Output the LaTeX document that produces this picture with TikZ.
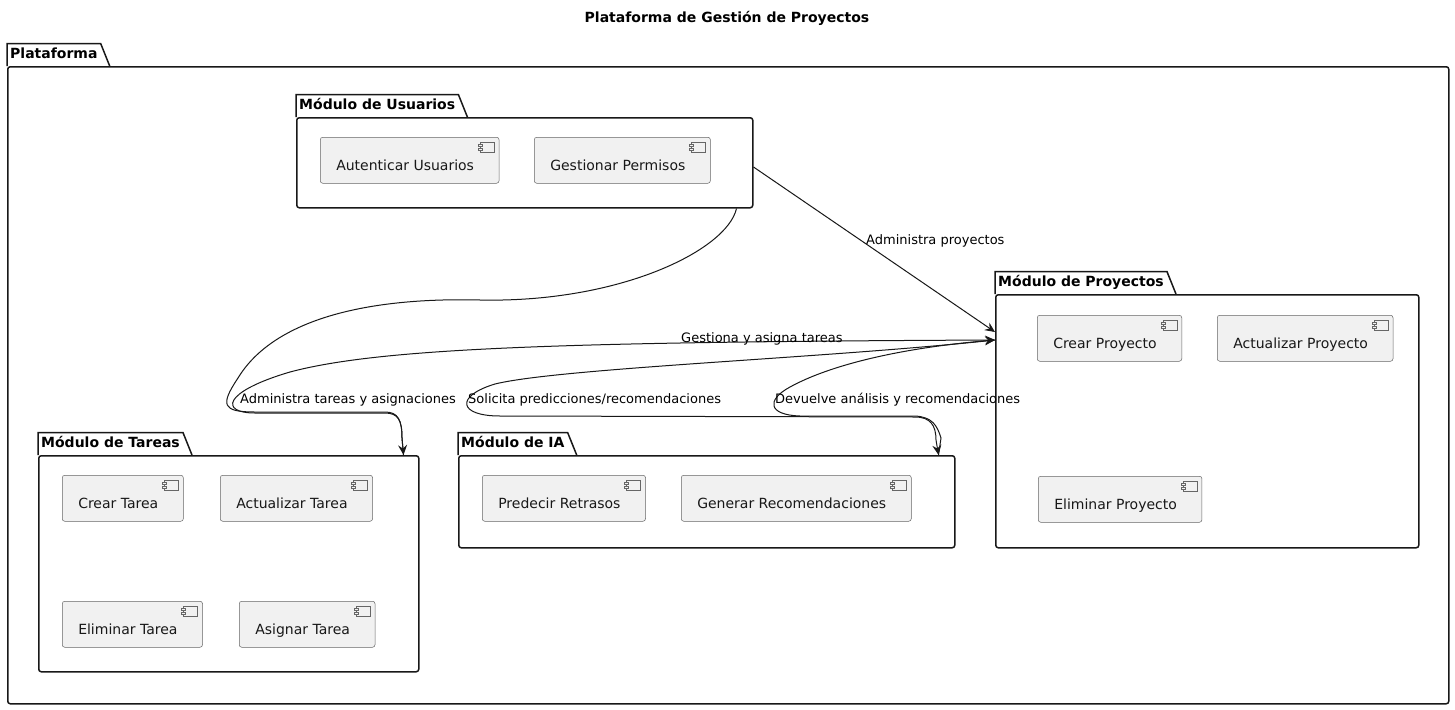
\documentclass[tikz,border=0pt]{standalone}
\usepackage{fontspec}
\setmainfont{DejaVu Sans}
\usetikzlibrary{arrows.meta,positioning}
\definecolor{compfill}{HTML}{F1F1F1}
\definecolor{umlline}{HTML}{181818}

\begin{document}
\begin{tikzpicture}[x=1pt, y=-1pt,
  font=\fontsize{14}{16}\selectfont,
  pkg/.style={draw=umlline, line width=1.5pt, rounded corners=2.5pt, anchor=north west,
              inner sep=0pt},
  tab/.style={anchor=south west, font=\fontsize{14}{16}\selectfont\bfseries, inner xsep=3pt,
              inner ysep=0pt, minimum height=22pt, text height=11pt, text depth=3pt},
  tabline/.style={draw=umlline, line width=1.5pt},
  comp/.style={draw=black!60, line width=0.5pt, fill=compfill, rounded corners=2.5pt,
               anchor=north west, inner xsep=0pt, minimum height=46pt, text height=22pt,
               text depth=2pt, text=umlline,
               execute at begin node={\hspace*{16pt}}, execute at end node={\hspace*{25pt}},
               path picture={
                 \draw[sharp corners, line width=0.5pt] ([xshift=-19pt,yshift=-5pt]path picture bounding box.north east) rectangle ++(14pt,-10pt);
                 \draw[sharp corners, line width=0.5pt, fill=compfill] ([xshift=-21pt,yshift=-7pt]path picture bounding box.north east) rectangle ++(4pt,-2pt);
                 \draw[sharp corners, line width=0.5pt, fill=compfill] ([xshift=-21pt,yshift=-11pt]path picture bounding box.north east) rectangle ++(4pt,-2pt);}},
  lbl/.style={anchor=west, inner sep=0pt, font=\fontsize{13}{15}\selectfont, text=black},
  arr/.style={-{Stealth[length=10pt, width=9pt, inset=3.5pt]}, draw=umlline, line width=1pt}]

\path[use as bounding box, fill=white] (0,0) rectangle (1455,709);

% Title
\node[font=\fontsize{14}{16}\selectfont\bfseries] (title) at (727,18) {Plataforma de Gestión de Proyectos};

% Outer package
\node[pkg, minimum width=1441pt, minimum height=637pt] (plat) at (7,66) {};
\node[tab] (platT) at (plat.north west) {Plataforma};
\draw[tabline] (platT.south west) -- (platT.north west) -- (platT.north east) -- ([xshift=9pt]platT.south east);

% Usuarios
\node[pkg, minimum width=456pt, minimum height=90pt] (usr) at (296,117) {};
\node[tab] (usrT) at (usr.north west) {Módulo de Usuarios};
\draw[tabline] (usrT.south west) -- (usrT.north west) -- (usrT.north east) -- ([xshift=9pt]usrT.south east);
\node[comp] (cAU) at (320,137) {Autenticar Usuarios};
\node[comp] (cGP) at (534,137) {Gestionar Permisos};

% Proyectos
\node[pkg, minimum width=423pt, minimum height=253pt] (pro) at (995,294) {};
\node[tab] (proT) at (pro.north west) {Módulo de Proyectos};
\draw[tabline] (proT.south west) -- (proT.north west) -- (proT.north east) -- ([xshift=9pt]proT.south east);
\node[comp] (cCP) at (1037,315) {Crear Proyecto};
\node[comp] (cUP) at (1217,315) {Actualizar Proyecto};
\node[comp] (cEP) at (1038,476) {Eliminar Proyecto};

% Tareas
\node[pkg, minimum width=380pt, minimum height=216pt] (tar) at (38,455) {};
\node[tab] (tarT) at (tar.north west) {Módulo de Tareas};
\draw[tabline] (tarT.south west) -- (tarT.north west) -- (tarT.north east) -- ([xshift=9pt]tarT.south east);
\node[comp] (cCT) at (62,475) {Crear Tarea};
\node[comp] (cUT) at (220,475) {Actualizar Tarea};
\node[comp] (cET) at (62,601) {Eliminar Tarea};
\node[comp] (cAT) at (239,601) {Asignar Tarea};

% IA
\node[pkg, minimum width=496pt, minimum height=92pt] (ia) at (458,455) {};
\node[tab] (iaT) at (ia.north west) {Módulo de IA};
\draw[tabline] (iaT.south west) -- (iaT.north west) -- (iaT.north east) -- ([xshift=9pt]iaT.south east);
\node[comp] (cPR) at (482,475) {Predecir Retrasos};
\node[comp] (cGR) at (681,475) {Generar Recomendaciones};

% Connectors
\draw[arr] ([yshift=-50pt]usr.north east) -- ([yshift=-38pt]pro.north west);
\draw[arr] ([xshift=-17pt]usr.south east)
  .. controls (727,250) and (620,303) .. (480,300)
  .. controls (360,297) and (272,322) .. (238,378)
  .. controls (220,405) and (222,412) .. (255,412)
  -- (385,412) .. controls (398,412) and (402,420) .. (402,438)
  -- ([xshift=-16pt]tar.north east);
\draw[arr] ([xshift=-16pt]tar.north east) -- (402,438)
  .. controls (402,420) and (398,413) .. (385,413) -- (255,413)
  .. controls (220,413) and (222,392) .. (290,372)
  .. controls (380,348) and (560,342) .. ([yshift=-46pt]pro.north west);
\draw[arr] ([yshift=-46pt]pro.north west)
  .. controls (830,358) and (560,368) .. (495,384)
  .. controls (455,396) and (458,416) .. (500,416)
  -- (915,417) .. controls (930,417) and (936,425) .. (936,440)
  -- ([xshift=-17pt]ia.north east);
\draw[arr] ([xshift=-17pt]ia.north east) -- (941,438)
  .. controls (937,425) and (932,417) .. (915,416) -- (800,416)
  .. controls (768,415) and (766,400) .. (790,387)
  .. controls (830,365) and (900,348) .. ([yshift=-46pt]pro.north west);

% Connector labels
\node[lbl] (lAP) at (866,241) {Administra proyectos};
\node[lbl] (lGT) at (681,339) {Gestiona y asigna tareas};
\node[lbl] (lAT) at (240,400) {Administra tareas y asignaciones};
\node[lbl] (lSP) at (468,400) {Solicita predicciones/recomendaciones};
\node[lbl] (lDA) at (775,400) {Devuelve análisis y recomendaciones};
\end{tikzpicture}
\end{document}
